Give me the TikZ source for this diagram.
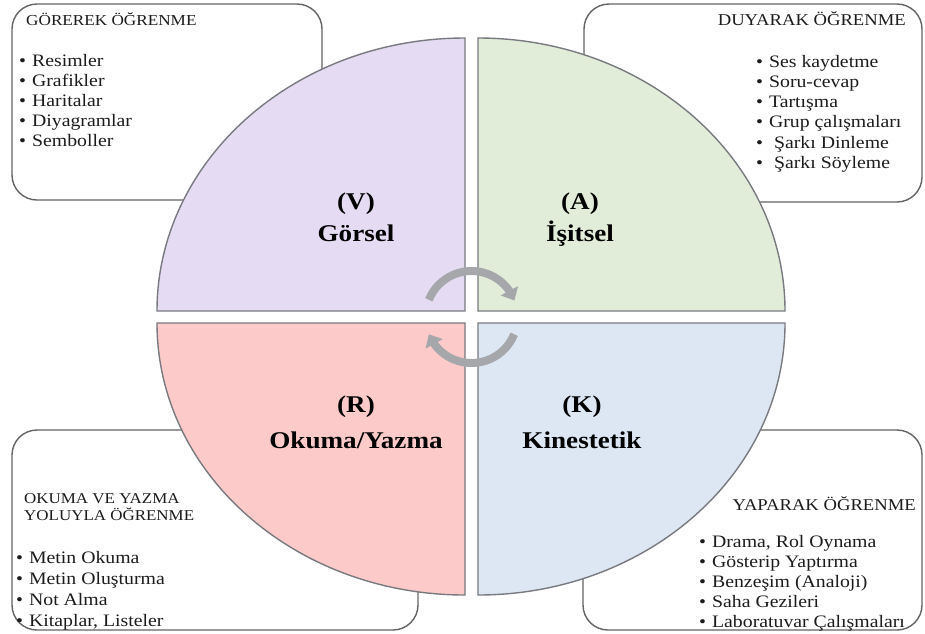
\documentclass[tikz,border=0pt]{standalone}
\usepackage{fontspec}
\setmainfont{Liberation Serif}[FakeStretch=1.13]
\usetikzlibrary{arrows.meta,bending}
\definecolor{qV}{RGB}{229,220,243}
\definecolor{qA}{RGB}{226,237,217}
\definecolor{qR}{RGB}{253,202,202}
\definecolor{qK}{RGB}{221,231,243}
\definecolor{qedge}{RGB}{120,122,128}
\definecolor{boxedge}{RGB}{100,100,100}
\definecolor{arrowgray}{RGB}{165,167,171}
\definecolor{txt}{RGB}{28,28,28}
\newcommand{\bul}{\textbullet\hspace{6pt}}
\begin{document}
\begin{tikzpicture}[x=1pt,y=1pt,
  boxline/.style={draw=boxedge,line width=1.4pt,rounded corners=25pt},
  quad/.style={draw=qedge,line width=1.4pt},
  headS/.style={inner sep=0pt,font=\fontsize{15.2}{17}\selectfont,text=txt},
  headM/.style={inner sep=0pt,font=\fontsize{15}{17}\selectfont,text=txt},
  headL/.style={inner sep=0pt,font=\fontsize{16.5}{18}\selectfont,text=txt},
  item/.style={inner sep=0pt,font=\fontsize{17.5}{20}\selectfont,text=txt,anchor=base west},
  lab/.style={inner sep=0pt,font=\fontsize{24}{28}\selectfont\bfseries,text=black,anchor=base},
  cyc/.style={draw=arrowgray,line width=8pt,-{Triangle[width=19pt,length=11pt]}}
]
\useasboundingbox (0,0) rectangle (925,-633);

% outer boxes (behind the circle)
\draw[boxline,fill=white] (12,-4) rectangle (322,-200);
\draw[boxline,fill=white] (584,-4) rectangle (922,-202);
\draw[boxline,fill=white] (12,-430) rectangle (418,-630);
\draw[boxline,fill=white] (583,-430) rectangle (922,-630);

% quadrants
\draw[quad,fill=qV] (465,-311) -- (157,-311) arc[start angle=180,end angle=90,x radius=308,y radius=273] -- cycle;
\draw[quad,fill=qA] (478,-311) -- (478,-38) arc[start angle=90,end angle=0,x radius=307,y radius=273] -- cycle;
\draw[quad,fill=qR] (465,-323) -- (465,-595) arc[start angle=270,end angle=180,x radius=308,y radius=272] -- cycle;
\draw[quad,fill=qK] (478,-323) -- (785,-323) arc[start angle=0,end angle=-90,x radius=307,y radius=272] -- cycle;

% quadrant labels
\node[lab] (vl) at (356,-209) {(V)};
\node[lab] (vn) at (356,-241) {Görsel};
\node[lab] (al) at (580,-209) {(A)};
\node[lab] (an) at (580,-241) {İşitsel};
\node[lab] (rl) at (356,-412) {(R)};
\node[lab] (rn) at (356,-448) {Okuma/Yazma};
\node[lab] (kl) at (582,-412) {(K)};
\node[lab] (kn) at (582,-448) {Kinestetik};

% cycle arrows
\coordinate (ctr) at (471.5,-317);
\draw[cyc] ([shift={(158:46)}]ctr) arc[start angle=158,end angle=21,radius=46];
\draw[cyc] ([shift={(-22:46)}]ctr) arc[start angle=-22,end angle=-158,radius=46];

% top-left box
\node[headS,anchor=base west] (tlh) at (26,-25) {GÖREREK ÖĞRENME};
\foreach \t [count=\i] in {Resimler,Grafikler,Haritalar,Diyagramlar,Semboller}
  \node[item] (tl\i) at (19,{-66-(\i-1)*20.2}) {\bul\t};

% top-right box
\node[headL,anchor=base east] (trh) at (906,-25) {DUYARAK ÖĞRENME};
\foreach \t [count=\i] in {Ses kaydetme,Soru-cevap,Tartışma,Grup çalışmaları,{\hspace{5pt}Şarkı Dinleme},{\hspace{5pt}Şarkı Söyleme}}
  \node[item] (tr\i) at (756,{-67-(\i-1)*20.3}) {\bul\t};

% bottom-left box
\node[headM,anchor=base west] (blh1) at (24,-503) {OKUMA VE YAZMA};
\node[headM,anchor=base west] (blh2) at (24,-520) {YOLUYLA ÖĞRENME};
\foreach \t [count=\i] in {Metin Okuma,Metin Oluşturma,Not Alma,{Kitaplar, Listeler}}
  \node[item] (bl\i) at (16,{-563-(\i-1)*21}) {\bul\t};

% bottom-right box
\node[headL,anchor=base east] (brh) at (916,-510) {YAPARAK ÖĞRENME};
\foreach \t [count=\i] in {{Drama, Rol Oynama},Gösterip Yaptırma,Benzeşim (Analoji),Saha Gezileri,Laboratuvar Çalışmaları}
  \node[item] (br\i) at (699,{-547-(\i-1)*20}) {\bul\t};
\end{tikzpicture}
\end{document}
